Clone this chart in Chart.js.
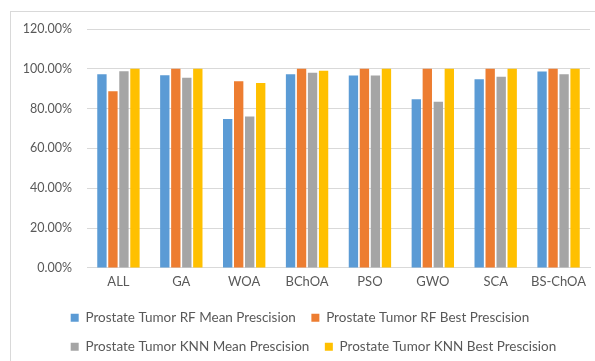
<!DOCTYPE html>
<html>
<head>
<meta charset="utf-8">
<script src="https://cdn.jsdelivr.net/npm/chart.js@4.4.1/dist/chart.umd.min.js"></script>
<style>
  html, body { margin: 0; padding: 0; background: #fff; }
  #wrap { position: relative; width: 595px; height: 361px; overflow: hidden; }
  #frame { position: absolute; left: 10px; top: 11px; width: 700px; height: 500px; border: 1px solid #d9d9d9; }
  canvas { position: absolute; left: 0; top: 0; }
</style>
</head>
<body>
<div id="wrap">
  <div id="frame"></div>
  <canvas id="c" width="595" height="361"></canvas>
</div>
<script>
// categories and series (percent)
const categories = ["ALL", "GA", "WOA", "BChOA", "PSO", "GWO", "SCA", "BS-ChOA"];
const rfMean = [97.3, 96.8, 74.8, 97.3, 96.7, 84.7, 94.8, 98.7];
const rfBest = [88.7, 100, 93.8, 100, 100, 100, 100, 100];
const knnMean = [98.8, 95.5, 76.1, 98.0, 96.7, 83.5, 96.0, 97.3];
const knnBest = [100, 100, 92.9, 99.0, 100, 100, 100, 100];
const yTicks = [0, 20, 40, 60, 80, 100, 120];

Chart.defaults.font.family = "Lato, 'Open Sans', sans-serif";
Chart.defaults.color = "#595959";

const mk = (label, data, color) => ({
    label: label,
    data: data,
    backgroundColor: color,
    borderWidth: 0,
    categoryPercentage: 0.7,
    barPercentage: 0.85,
});

// line the legend rows up on the same left edge, like Excel does
const alignLegendRows = {
    id: "alignLegendRows",
    afterUpdate(chart) {
        const lg = chart.legend;
        if (!lg || !lg.lineWidths) return;
        const m = Math.min(...lg.lineWidths);
        lg.lineWidths = lg.lineWidths.map(() => m);
    },
};

new Chart(document.getElementById("c"), {
    type: "bar",
    data: {
        labels: categories,
        datasets: [
            mk("Prostate Tumor RF Mean Prescision", rfMean, "#5b9bd5"),
            mk("Prostate Tumor RF Best Prescision", rfBest, "#ed7d31"),
            mk("Prostate Tumor KNN Mean Prescision", knnMean, "#a5a5a5"),
            mk("Prostate Tumor KNN Best Prescision", knnBest, "#ffc000"),
        ],
    },
    options: {
        responsive: false,
        animation: false,
        layout: { padding: { left: 10, right: 5, top: 29, bottom: -2.5 } },
        scales: {
            x: {
                grid: { display: false, drawTicks: false },
                border: { display: true, color: "#d9d9d9" },
                ticks: { font: { size: 13 }, padding: 6, color: "#595959" },
            },
            y: {
                min: 0,
                max: 120,
                afterFit: (s) => { s.width = 77; },
                afterBuildTicks: (s) => { s.ticks = yTicks.map((v) => ({ value: v })); },
                grid: { color: "#d9d9d9", lineWidth: 1, drawTicks: false },
                border: { display: false },
                ticks: {
                    padding: 15,
                    font: { size: 12.5 },
                    color: "#595959",
                    callback: (v) => v.toFixed(2) + "%",
                },
            },
        },
        plugins: {
            legend: {
                position: "bottom",
                labels: {
                    boxWidth: 8,
                    boxHeight: 8,
                    padding: 15.5,
                    font: { size: 13.5 },
                    color: "#595959",
                },
            },
            tooltip: { enabled: false },
        },
    },
    plugins: [alignLegendRows],
});
</script>
</body>
</html>
